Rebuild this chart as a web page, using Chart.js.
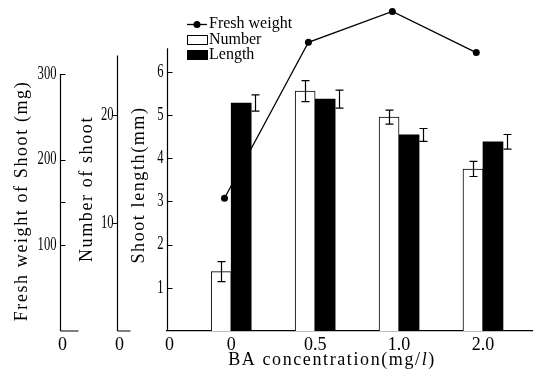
<!DOCTYPE html>
<html>
<head>
<meta charset="utf-8">
<script src="https://cdn.jsdelivr.net/npm/chart.js@4.4.1/dist/chart.umd.min.js"></script>
<style>
  body { margin: 0; background: #fff; }
</style>
</head>
<body>
<canvas id="chart" width="536" height="376"></canvas>
<script>
// values
var concentrations = ['0', '0.5', '1.0', '2.0'];
var freshWeight = [155, 337, 373, 325];          // mg
var shootNumber = [5.5, 22.2, 19.8, 15.0];
var shootNumberErr = [0.93, 0.97, 0.65, 0.7];
var shootLength = [5.28, 5.37, 4.54, 4.38];     // mm
var shootLengthErr = [0.19, 0.21, 0.15, 0.17];

var freshTicks = [100, 200, 300];
var freshMinorTicks = [150];
var numberTicks = [10, 20];
var lengthTicks = [1, 2, 3, 4, 5, 6];

var seriesNames = ['Fresh weight', 'Number', 'Length'];
var freshTitle = 'Fresh weight of Shoot (mg)';
var numberTitle = 'Number of shoot';
var lengthTitle = 'Shoot length(mm)';
var xTitle = 'BA concentration(mg/';

var SERIF = '"Liberation Serif", "DejaVu Serif", serif';

var xPos = concentrations.map(function(c, i){ return i + 1; });

function toPoints(values, shift){
  var out = new Array();
  for(var i = 0; i < values.length; i++){
    out.push({x: xPos[i] + shift, y: values[i]});
  }
  return out;
}

function setWidth(w){
  return function(scale){ scale.width = w; };
}

// y axis drawn by hand so the lines stop where the printed ones stop
function drawYAxis(ctx, scale, topValue, ticks, minor, tickDir, stub){
  var x = Math.round(scale.right) + 0.5;
  var y0 = scale.getPixelForValue(0);
  var yTop = scale.getPixelForValue(topValue);
  ctx.save();
  ctx.strokeStyle = '#000';
  ctx.lineWidth = 1.2;
  ctx.beginPath();
  ctx.moveTo(x, y0);
  ctx.lineTo(x, yTop);
  if(stub){
    ctx.moveTo(x, y0);
    ctx.lineTo(x + stub, y0);
  }
  ticks.concat(minor).forEach(function(v){
    var y = Math.round(scale.getPixelForValue(v)) + 0.5;
    ctx.moveTo(x, y);
    ctx.lineTo(x + tickDir * 5, y);
  });
  ctx.stroke();

  ctx.fillStyle = '#000';
  ctx.font = '18px ' + SERIF;
  ctx.textBaseline = 'middle';
  ticks.forEach(function(v){
    var y = scale.getPixelForValue(v);
    ctx.save();
    ctx.translate(x - 4, y);
    ctx.scale(0.7, 1);
    ctx.textAlign = 'right';
    ctx.fillText(String(v), 0, 0);
    ctx.restore();
  });
  ctx.textAlign = 'center';
  ctx.fillText('0', x + 2, 345);
  ctx.restore();
}

function drawVTitle(ctx, text, cx, cy){
  ctx.save();
  ctx.translate(cx, cy);
  ctx.rotate(-Math.PI / 2);
  ctx.font = '18px ' + SERIF;
  ctx.letterSpacing = '1.6px';
  ctx.fillStyle = '#000';
  ctx.textAlign = 'center';
  ctx.textBaseline = 'middle';
  ctx.fillText(text, 0, 0);
  ctx.restore();
}

var decor = {
  id: 'decor',
  afterDatasetsDraw: function(chart){
    var ctx = chart.ctx;
    ctx.save();
    ctx.strokeStyle = '#000';
    ctx.lineWidth = 1.2;
    chart.data.datasets.forEach(function(ds, di){
      if(!ds.errors) return;
      var meta = chart.getDatasetMeta(di);
      var yScale = chart.scales[meta.yAxisID];
      meta.data.forEach(function(bar, i){
        var x = ds.errorSide == 'right' ? bar.x + bar.width / 2 + 4 : bar.x;
        x = Math.round(x) + 0.5;
        var hi = yScale.getPixelForValue(ds.data[i].y + ds.errors[i]);
        var lo = yScale.getPixelForValue(ds.data[i].y - ds.errors[i]);
        ctx.beginPath();
        ctx.moveTo(x, hi); ctx.lineTo(x, lo);
        ctx.moveTo(x - 4, hi); ctx.lineTo(x + 4, hi);
        ctx.moveTo(x - 4, lo); ctx.lineTo(x + 4, lo);
        ctx.stroke();
      });
    });
    ctx.restore();
  },
  afterDraw: function(chart){
    var ctx = chart.ctx;
    var s = chart.scales;
    drawYAxis(ctx, s.yFresh, 300, freshTicks, freshMinorTicks, 1, 18);
    drawYAxis(ctx, s.yNum, 25.5, numberTicks, [], -1, 13);
    drawYAxis(ctx, s.yLen, 6.55, lengthTicks, [], 1, 0);

    drawVTitle(ctx, freshTitle, s.yFresh.left + 22, 201);
    drawVTitle(ctx, numberTitle, s.yNum.left + 27, 189);
    drawVTitle(ctx, lengthTitle, s.yLen.left + 22, 185);

    // x title, the litre "l" is set in italics
    ctx.save();
    ctx.fillStyle = '#000';
    ctx.textBaseline = 'middle';
    ctx.letterSpacing = '1.6px';
    ctx.font = '18px ' + SERIF;
    var w1 = ctx.measureText(xTitle).width;
    ctx.font = 'italic 18px ' + SERIF;
    var w2 = ctx.measureText('l').width;
    ctx.font = '18px ' + SERIF;
    var w3 = ctx.measureText(')').width;
    var x = 332 - (w1 + w2 + w3) / 2;
    ctx.fillText(xTitle, x, 360);
    ctx.font = 'italic 18px ' + SERIF;
    ctx.fillText('l', x + w1, 360);
    ctx.font = '18px ' + SERIF;
    ctx.fillText(')', x + w1 + w2, 360);
    ctx.restore();

    // legend
    ctx.save();
    ctx.strokeStyle = '#000';
    ctx.fillStyle = '#000';
    ctx.lineWidth = 1.3;
    ctx.beginPath();
    ctx.moveTo(187, 24.5); ctx.lineTo(207, 24.5);
    ctx.stroke();
    ctx.beginPath();
    ctx.arc(197, 24.5, 3.5, 0, Math.PI * 2);
    ctx.fill();
    ctx.lineWidth = 1;
    ctx.fillStyle = '#fff';
    ctx.fillRect(187.5, 35.5, 20, 9);
    ctx.strokeRect(187.5, 35.5, 20, 9);
    ctx.fillStyle = '#000';
    ctx.fillRect(187, 50, 21, 10);
    ctx.font = '16px ' + SERIF;
    ctx.textBaseline = 'middle';
    ctx.fillText(seriesNames[0], 209, 24);
    ctx.fillText(seriesNames[1], 209, 40);
    ctx.fillText(seriesNames[2], 209, 55);
    ctx.restore();
  }
};

var ctx = document.getElementById('chart').getContext('2d');
var chart = new Chart(ctx, {
  type: 'bar',
  data: {
    datasets: [{
      type: 'line',
      label: seriesNames[0],
      data: toPoints(freshWeight, -0.08),
      yAxisID: 'yFresh',
      borderColor: '#000',
      borderWidth: 1.3,
      pointRadius: 3.5,
      pointBackgroundColor: '#000',
      pointBorderWidth: 0,
      clip: false,
      order: 1
    }, {
      label: seriesNames[1],
      data: toPoints(shootNumber, 0),
      errors: shootNumberErr,
      errorSide: 'center',
      yAxisID: 'yNum',
      backgroundColor: '#fff',
      borderColor: '#000',
      borderWidth: 1,
      barThickness: 20,
      order: 0
    }, {
      label: seriesNames[2],
      data: toPoints(shootLength, 0),
      errors: shootLengthErr,
      errorSide: 'right',
      yAxisID: 'yLen',
      backgroundColor: '#000',
      borderWidth: 0,
      barThickness: 20,
      order: 0
    }]
  },
  options: {
    responsive: false,
    animation: false,
    layout: { padding: { top: 8, right: 4, left: 0, bottom: 0 } },
    plugins: {
      legend: { display: false },
      tooltip: { enabled: false }
    },
    scales: {
      x: {
        type: 'linear',
        offset: false,
        min: 0.235,
        max: 4.584,
        grid: { display: false, drawTicks: false, offset: false },
        border: { color: '#000', width: 1.2 },
        afterBuildTicks: function(scale){
          scale.ticks = xPos.map(function(v){ return {value: v}; });
        },
        afterFit: function(scale){ scale.height = 45; },
        ticks: {
          padding: 3,
          color: '#000',
          font: { family: SERIF, size: 18 },
          maxRotation: 0,
          callback: function(v, i){ return concentrations[i]; }
        }
      },
      yFresh: {
        position: 'left',
        weight: 3,
        min: 0,
        max: 377,
        grid: { display: false },
        border: { display: false },
        ticks: { display: false },
        afterFit: setWidth(60)
      },
      yNum: {
        position: 'left',
        weight: 2,
        min: 0,
        max: 29.9,
        grid: { display: false },
        border: { display: false },
        ticks: { display: false },
        afterFit: setWidth(57)
      },
      yLen: {
        position: 'left',
        weight: 1,
        min: 0,
        max: 7.48,
        grid: { display: false },
        border: { display: false },
        ticks: { display: false },
        afterFit: setWidth(50)
      }
    }
  },
  plugins: [decor]
});
</script>
</body>
</html>
